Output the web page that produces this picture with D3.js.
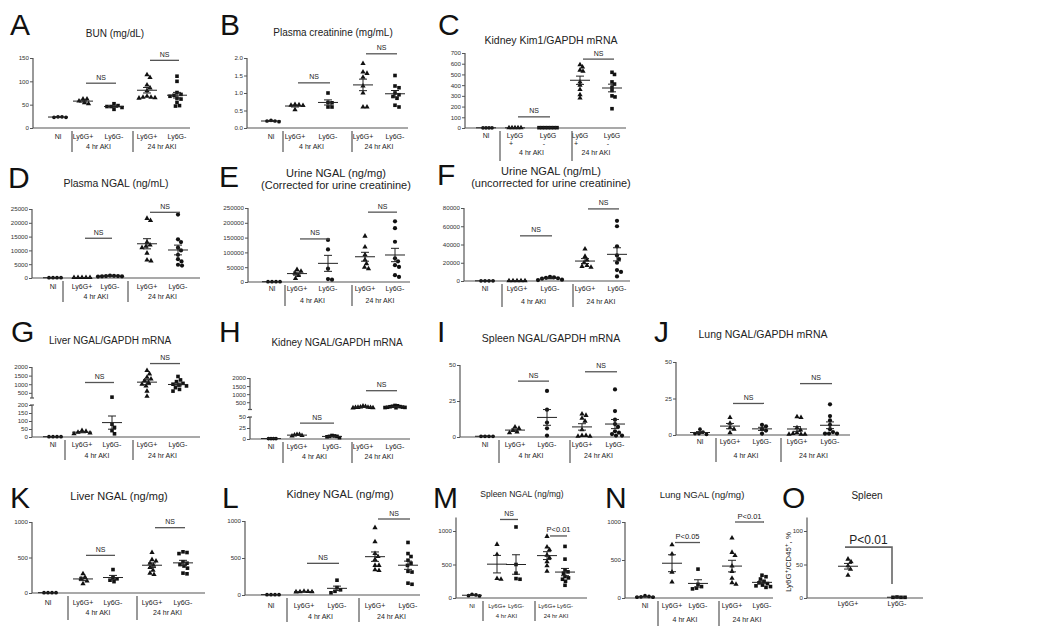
<!DOCTYPE html>
<html><head><meta charset="utf-8">
<script src="https://cdn.jsdelivr.net/npm/d3@7"></script>
<style>body{margin:0;background:#fff} text{font-family:"Liberation Sans",Arial,sans-serif}</style>
</head><body><svg id="c" width="1050" height="640"></svg>
<script>
// ---------------- DATA ----------------
const cats = ["Nl", "Ly6G+", "Ly6G-", "Ly6G+", "Ly6G-"];
const timeGroups = ["4 hr AKI", "24 hr AKI"];
const catsO = ["Ly6G+", "Ly6G-"];

const bunData = [[23,24,24,23],[62,62,58,54,52],[52,48,46,46,40,44],[114,108,92,86,80,68,66,65,64,66],[111,100,76,72,70,68,64,55,48,47,62]];
const bunSig = [96, 145];
const bunTicks = [0,50,100,150];

const creatData = [[0.2,0.18,0.2,0.22],[0.66,0.65,0.64,0.52,0.67],[1.0,0.73,0.72,0.6,0.6],[1.84,1.6,1.56,1.2,1.0,0.6,0.6,1.45],[1.5,1.2,1.15,1.0,0.95,0.9,0.85,0.6,0.65]];
const creatSig = [1.29, 2.12];
const creatTicks = [0,0.5,1.0,1.5,2.0];

const kim1Data = [[2,2,2,2],[2,2,2,2,2],[3,3,3,3,3,3,3],[590,570,540,530,430,400,360,310,280],[520,500,430,410,380,350,300,290,180]];
const kim1Sig = [104, 643];
const kim1Ticks = [0,100,200,300,400,500,600,700];

const pNgalData = [[100,100,100,100],[150,150,150,150,150],[800,700,600,900,500,600,700],[21600,20800,13000,12000,11500,11000,9000,6500,6200],[23000,14000,13000,11000,10000,8400,6800,6000,4800,4500]];
const pNgalSig = [14400, 23800];
const pNgalTicks = [0,5000,10000,15000,20000,25000];

const uNgalCorrData = [[1000,1000,1000,1000],[42000,36000,30000,22000,12000],[142000,110000,45000,10000,8000],[155000,118000,92000,75000,50000,45000,62000],[205000,182000,136000,80000,70000,57000,51000,23000,17000]];
const uNgalCorrSig = [145500, 236000];
const uNgalCorrTicks = [0,50000,100000,150000,200000,250000];

const uNgalData = [[200,200,200,200],[300,300,300,300,300],[4500,4000,3500,3000,2500,1500,1000],[35000,27000,23000,20000,17000,16000,15000],[66000,60000,38000,28000,24000,20000,12000,5000,10000]];
const uNgalSig = [49500, 79000];
const uNgalTicks = [0,20000,40000,60000,80000];

const liverMrnaData = [[2,2,2,2],[40,35,30,25,20],[250,80,60,40,20],[1800,1600,1400,1300,1200,1100,1000,900,600,300],[1450,1250,1150,1050,1000,950,900,800,700,600]];
const liverMrnaSig = [1100, 2200];
const liverMrnaTicks = [0,50,100,150,200,500,1000,1500,2000];

const kidneyMrnaData = [[1,1,1,1],[10,9,10,8,7],[7,6,8,5,6,3],[260,230,200,190,180,170,170,160,150],[300,280,250,230,220,200,190,180,170,160]];
const kidneyMrnaSig = [36, 1214];
const kidneyMrnaTicks = [0,25,50,500,1000,1500,2000];

const spleenMrnaData = [[0.5,0.5,0.5,0.5],[7,6,4.5,3.5,3],[32,19,10,6,1],[16,15,13,11,5,1,1,0.5,0.5],[33,18,12,9,7,4,3,2,1,1]];
const spleenMrnaSig = [38.8, 45.3];
const lungMrnaData = [[4,2,1,1,0.5],[12,8,5,4,1.5],[7,6,4,3,1],[12.5,12,5,3.5,1.5,1,0.5,0.5,0.5],[21,13,10,7,4,2,1,1,1]];
const lungMrnaSig = [21.6, 35.2];
const mrnaTicks = [0,25,50];

const liverNgalData = [[5,5,5,5],[270,220,200,170,130],[330,220,200,180,160],[570,470,450,420,390,360,320,280,260],[580,570,555,440,420,400,380,350,280,270]];
const liverNgalSig = [530, 920];
const kidneyNgalData = [[5,5,5,5],[50,48,45,45,42],[200,100,70,50,30],[910,720,560,520,480,400,340,330,400],[710,560,520,470,430,400,320,160,145,310]];
const kidneyNgalSig = [428, 1027];
const spleenNgalData = [[55,45,35,30],[800,650,290,280],[1060,500,370,290,280],[920,760,720,640,600,540,480,400],[770,580,420,390,370,320,300,280,250,190]];
const spleenNgalSig = [1172, 926];
const lungNgalData = [[30,20,15,10,10],[700,580,340,210],[380,180,150,130,120],[790,600,560,420,350,260,200,180],[300,280,250,220,200,190,170,160,150,140]];
const lungNgalSig = [730, 1000];
const ngalTicks = [0,500,1000];

const spleenFlowData = [[58,54,48,43,34],[1.5,1,1,1]];
const spleenFlowSig = [76, 21];
const spleenFlowTicks = [0,50,100];

const sigNS = ["NS","NS"];

// ---------------- DRAWING ----------------
const svg = d3.select("#c");
const AX = "#555";

function swarm(vals, y, d) {
  const pts = vals.map(v => ({v, py: y(v), dx: 0}));
  const order = pts.slice().sort((a,b) => a.py - b.py);
  const placed = [];
  order.forEach(p => {
    for (let k = 0; k < 400; k++) {
      const off = (k % 2 === 1 ? 1 : -1) * Math.ceil(k/2) * 0.5;
      if (placed.every(q => (q.dx-off)**2 + (q.py-p.py)**2 >= d*d)) { p.dx = off; break; }
    }
    placed.push(p);
  });
  return pts;
}

function drawPanel(p) {
  const g = svg.append("g");
  g.append("text").attr("x", p.lx).attr("y", p.ly).attr("font-size", 30).attr("fill", "#111").text(p.letter);
  p.title.forEach((t,i) => g.append("text").attr("x", p.tx).attr("y", p.ty + i*12)
    .attr("text-anchor","middle").attr("font-size", p.tfs || 10).attr("fill","#222").text(t));

  const y = d3.scaleLinear().domain(p.domain).range(p.range);
  const x = d3.scaleOrdinal().domain(d3.range(p.data.length)).range(p.xs);
  const y0 = y(0);

  const axis = d3.axisLeft(y).tickValues(p.ticks).tickSize(3).tickSizeOuter(0)
    .tickFormat(p.fmt || (d => String(d)));
  const ag = g.append("g").attr("transform", `translate(${p.ax},0)`).call(axis);
  ag.select(".domain").remove();
  ag.selectAll("line").attr("stroke", AX);
  ag.selectAll("text").attr("font-size", 6.2).attr("fill", "#333").attr("x", -4)
    .attr("font-family", '"Liberation Sans", Arial, sans-serif');

  const segs = p.segments || [[p.domain[0], p.domain[p.domain.length-1]]];
  segs.forEach((s, i) => {
    g.append("line").attr("x1", p.ax).attr("x2", p.ax).attr("y1", y(s[0])).attr("y2", y(s[1]))
      .attr("stroke", AX).attr("stroke-width", 1.2);
    if (p.segments) {
      const end = i === 0 ? y(s[1]) : y(s[0]);
      g.append("line").attr("x1", p.ax-2).attr("x2", p.ax+2).attr("y1", end).attr("y2", end)
        .attr("stroke", AX).attr("stroke-width", 1.2);
    }
  });
  // x axis
  g.append("line").attr("x1", p.ax).attr("x2", p.xEnd).attr("y1", y0).attr("y2", y0)
    .attr("stroke", AX).attr("stroke-width", 1.2);

  const labs = p.cats;
  const lfs = p.lfs || 7;
  labs.forEach((c,i) => {
    if (p.split && c !== "Nl") {
      g.append("text").attr("x", x(i)).attr("y", y0 + p.labDy).attr("text-anchor","middle")
        .attr("font-size", lfs).attr("fill","#222").text(c.slice(0,4));
      g.append("text").attr("x", x(i) - 4).attr("y", y0 + p.labDy + 8).attr("text-anchor","middle")
        .attr("font-size", lfs).attr("fill","#222").text(c.slice(4));
    } else {
      g.append("text").attr("x", x(i)).attr("y", y0 + p.labDy).attr("text-anchor","middle")
        .attr("font-size", lfs).attr("fill","#222").text(c);
    }
  });
  if (p.groups) {
    p.groups.forEach((gl, j) => {
      const cx = (x(1 + 2*j) + x(2 + 2*j)) / 2;
      g.append("text").attr("x", cx).attr("y", y0 + p.grpDy).attr("text-anchor","middle")
        .attr("font-size", lfs).attr("fill","#222").text(gl);
    });
    p.seps.forEach(sx => g.append("line").attr("x1", sx).attr("x2", sx)
      .attr("y1", y0 + 3).attr("y2", y0 + p.sepEnd).attr("stroke", AX).attr("stroke-width", 1.2));
  }

  // points
  p.data.forEach((vals, i) => {
    const lab = labs[i];
    let sym = d3.symbolSquare, size = 13;
    if (lab === "Nl") { sym = d3.symbolCircle; size = 11; }
    else if (lab === "Ly6G+") { sym = d3.symbolTriangle; size = 12; }
    else if (p.minusCircle) { sym = d3.symbolCircle; size = 14; }
    const pts = swarm(vals, y, p.swarmD || 4);
    g.selectAll(null).data(pts).enter().append("path")
      .attr("d", d3.symbol().type(sym).size(size))
      .attr("transform", d => `translate(${x(i) + d.dx},${d.py})`)
      .attr("fill", "#111");
    const m = d3.mean(vals);
    const sem = d3.deviation(vals) / Math.sqrt(vals.length);
    const cx = x(i);
    const ln = (x1,x2,y1,y2) => g.append("line").attr("x1",x1).attr("x2",x2).attr("y1",y1).attr("y2",y2)
      .attr("stroke","#222").attr("stroke-width",1);
    ln(cx-10, cx+10, y(m), y(m));
    ln(cx, cx, y(m-sem), y(m+sem));
    ln(cx-4, cx+4, y(m-sem), y(m-sem));
    ln(cx-4, cx+4, y(m+sem), y(m+sem));
  });

  if (p.sig && p.groups) {
    p.sig.forEach((sv, j) => {
      const a = x(1 + 2*j) + 3, b = x(2 + 2*j) + 2, yy = y(sv);
      g.append("line").attr("x1", a).attr("x2", b).attr("y1", yy).attr("y2", yy)
        .attr("stroke", "#555").attr("stroke-width", 1.3);
      g.append("text").attr("x", (a+b)/2).attr("y", yy - 3.5).attr("text-anchor","middle")
        .attr("font-size", p.sigText[j] === "NS" ? 7 : 7.5).attr("fill","#222").text(p.sigText[j]);
    });
  }
  return {g, x, y};
}

const row = {
  A: {letter:"A", lx:10, ly:35, title:["BUN (mg/dL)"], tfs:10, tx:115, ty:37, domain:[0,150], range:[128,58], ticks:bunTicks,
      ax:33, xs:[58,83,114,147,177], seps:[72,133], xEnd:190, data:bunData, sig:bunSig, labDy:11, grpDy:21, sepEnd:24},
  B: {letter:"B", lx:220, ly:35, title:["Plasma creatinine (mg/mL)"], tfs:10, tx:333, ty:36, domain:[0,2], range:[128,58], ticks:creatTicks,
      fmt:d3.format(".1f"), ax:247, xs:[271,295,328,363,395], seps:[283,352], xEnd:408, data:creatData, sig:creatSig, labDy:11, grpDy:21, sepEnd:24},
  C: {letter:"C", lx:438, ly:35, title:["Kidney Kim1/GAPDH mRNA"], tfs:10.5, tx:551, ty:44, domain:[0,700], range:[128,53], ticks:kim1Ticks,
      ax:465, xs:[486,515,548,580,612], seps:[500,572], xEnd:626, data:kim1Data, sig:kim1Sig, split:true, labDy:10, grpDy:27, sepEnd:33, swarmD:3},
  D: {letter:"D", lx:8, ly:188, title:["Plasma NGAL (ng/mL)"], tfs:10.5, tx:116, ty:187, domain:[0,25000], range:[278,209], ticks:pNgalTicks,
      ax:32, xs:[53,82,110,147,178], seps:[63,128], xEnd:200, data:pNgalData, sig:pNgalSig, minusCircle:true, labDy:11, grpDy:21, sepEnd:24},
  E: {letter:"E", lx:219, ly:187, title:["Urine NGAL (ng/mg)","(Corrected for urine creatinine)"], tfs:11, tx:336, ty:177, domain:[0,250000], range:[282,208], ticks:uNgalCorrTicks,
      ax:248, xs:[272,297,328,365,395], seps:[285,352], xEnd:410, data:uNgalCorrData, sig:uNgalCorrSig, minusCircle:true, labDy:9, grpDy:21, sepEnd:24},
  F: {letter:"F", lx:437, ly:185, title:["Urine NGAL (ng/mL)","(uncorrected for urine creatinine)"], tfs:11, tx:551, ty:175, domain:[0,80000], range:[281,208], ticks:uNgalTicks,
      ax:464, xs:[485,517,550,585,617], seps:[502,573], xEnd:630, data:uNgalData, sig:uNgalSig, minusCircle:true, labDy:10, grpDy:23, sepEnd:26},
  G: {letter:"G", lx:11, ly:342, title:["Liver NGAL/GAPDH mRNA"], tfs:10, tx:110, ty:344, domain:[0,200,200.001,2000], range:[437,405,398,367],
      segments:[[0,200],[200.001,2000]], ticks:liverMrnaTicks,
      ax:32, xs:[53,82,112,147,178], seps:[65,133], xEnd:200, data:liverMrnaData, sig:liverMrnaSig, labDy:10, grpDy:20.5, sepEnd:23},
  H: {letter:"H", lx:219, ly:342, title:["Kidney NGAL/GAPDH mRNA"], tfs:10, tx:337, ty:346, domain:[0,50,50.001,2000], range:[439,417,409.5,378],
      segments:[[0,50],[50.001,2000]], ticks:kidneyMrnaTicks,
      ax:250, xs:[271,297,332,363,395], seps:[283,352], xEnd:410, data:kidneyMrnaData, sig:kidneyMrnaSig, labDy:10, grpDy:20, sepEnd:24, swarmD:2.4},
  I: {letter:"I", lx:437, ly:342, title:["Spleen NGAL/GAPDH mRNA"], tfs:10.5, tx:551, ty:342, domain:[0,50], range:[437,365], ticks:mrnaTicks,
      ax:460, xs:[485,515,547,582,615], seps:[499,570], xEnd:630, data:spleenMrnaData, sig:spleenMrnaSig, minusCircle:true, labDy:10, grpDy:21, sepEnd:26},
  J: {letter:"J", lx:654, ly:342, title:["Lung NGAL/GAPDH mRNA"], tfs:10.5, tx:763, ty:338, domain:[0,50], range:[435,362], ticks:mrnaTicks,
      ax:676, xs:[700,730,762,797,830], seps:[716,781], xEnd:850, data:lungMrnaData, sig:lungMrnaSig, minusCircle:true, labDy:8.5, grpDy:22.5, sepEnd:27},
  K: {letter:"K", lx:10, ly:508, title:["Liver NGAL (ng/mg)"], tfs:11, tx:119, ty:500, domain:[0,1000], range:[593,522], ticks:ngalTicks,
      ax:32, xs:[48,83,113,152,183], seps:[68,137], xEnd:205, data:liverNgalData, sig:liverNgalSig, labDy:12, grpDy:22, sepEnd:27},
  L: {letter:"L", lx:222, ly:508, title:["Kidney NGAL (ng/mg)"], tfs:11, tx:340, ty:498, domain:[0,1000], range:[595,521], ticks:ngalTicks,
      ax:245, xs:[271,304,337,375,408], seps:[287,359], xEnd:420, data:kidneyNgalData, sig:kidneyNgalSig, labDy:12.5, grpDy:23.5, sepEnd:27},
  M: {letter:"M", lx:433, ly:508, title:["Spleen NGAL (ng/mg)"], tfs:8.5, tx:522, ty:497, domain:[0,1200], range:[598,517.6], ticks:ngalTicks,
      ax:456, xs:[472,497,516,547,565], seps:[483,535], xEnd:587, data:spleenNgalData, sig:spleenNgalSig, labDy:9.5, grpDy:20, sepEnd:23,
      sigText:["NS","P<0.01"], lfs:6, swarmD:3.6},
  N: {letter:"N", lx:605, ly:508, title:["Lung NGAL (ng/mg)"], tfs:9.5, tx:702, ty:498, domain:[0,1000], range:[598,522], ticks:ngalTicks,
      ax:625, xs:[645,672,698,732,762], seps:[658,719], xEnd:773, data:lungNgalData, sig:lungNgalSig, labDy:10, grpDy:24, sepEnd:28, sigText:["P<0.05","P<0.01"]}
};

Object.values(row).forEach(p => {
  p.cats = cats; p.groups = timeGroups;
  if (!p.sigText) p.sigText = sigNS;
  drawPanel(p);
});

// Panel O
const pO = {letter:"O", lx:782, ly:508, title:["Spleen"], tfs:10, tx:867, ty:499, domain:[0,120], range:[598,517.6], ticks:spleenFlowTicks,
  ax:807, xs:[848,897], xEnd:923, data:spleenFlowData, cats:catsO, labDy:8};
const o = drawPanel(pO);
const xa = o.x(0) - 3, xb = o.x(1) - 5;
o.g.append("path").attr("d", `M${xa},${o.y(spleenFlowSig[0])}H${xb}V${o.y(spleenFlowSig[1])}`)
  .attr("fill","none").attr("stroke","#666").attr("stroke-width",1.6);
o.g.append("text").attr("x", (xa+xb)/2).attr("y", o.y(spleenFlowSig[0]) - 3).attr("text-anchor","middle")
  .attr("font-size", 12).attr("fill","#222").text("P<0.01");
const yl = o.g.append("text").attr("transform", "translate(791,562) rotate(-90)").attr("text-anchor","middle")
  .attr("font-size", 8).attr("fill","#222");
yl.append("tspan").text("Ly6G");
yl.append("tspan").attr("baseline-shift","super").attr("font-size",6).text("+");
yl.append("tspan").text("/CD45");
yl.append("tspan").attr("baseline-shift","super").attr("font-size",6).text("+");
yl.append("tspan").text(", %");
</script></body></html>
